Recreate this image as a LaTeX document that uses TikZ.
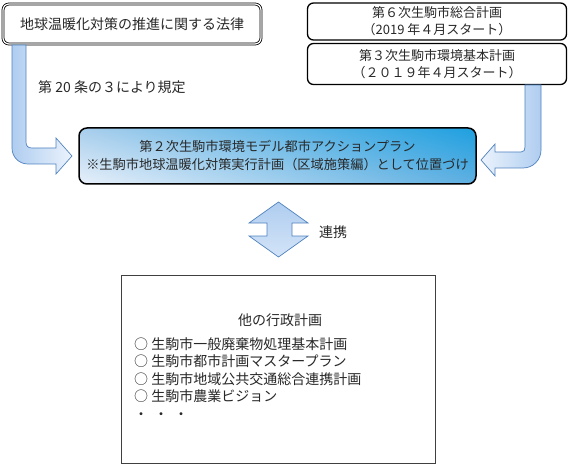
\documentclass[tikz,border=0pt]{standalone}
\usepackage{fontspec}
\setmainfont{Noto Sans CJK JP}
\usepackage{tikz}
\usetikzlibrary{positioning, calc, shadings}
\definecolor{mytext}{RGB}{40,40,40}
\definecolor{myedge}{RGB}{80,130,190}
\definecolor{mylight}{RGB}{235,243,252}
\definecolor{mymid}{RGB}{175,205,240}
\definecolor{myblue}{RGB}{30,160,224}
\definecolor{mypale}{RGB}{232,240,250}
\definecolor{mysoft}{RGB}{168,206,236}
\definecolor{mydeep}{RGB}{95,175,225}
\tikzset{
  planbox/.style={rectangle, draw=black, fill=white, rounded corners=6pt,
    line width=1.3pt, align=center, text=mytext,
    font=\fontsize{13}{17}\selectfont, inner sep=0pt},
  lawbox/.style={planbox, line width=0.8pt, double=white, double distance=1.2pt,
    font=\fontsize{14}{17}\selectfont},
  mainbox/.style={planbox, line width=1.5pt, rounded corners=8pt,
    lower left=mypale, upper right=myblue, lower right=mydeep, upper left=mysoft},
  listbox/.style={rectangle, draw=black!75, fill=white, line width=1pt},
  blockarrow/.style={draw=myedge, line width=0.7pt, left color=mymid, right color=mylight},
  plainlabel/.style={text=mytext, font=\fontsize{14}{17}\selectfont, inner sep=0pt}
}

\begin{document}
\begin{tikzpicture}[x=1pt, y=-1pt]
  \useasboundingbox (0,0) rectangle (570,465);

  % Upper plans
  \node[lawbox, minimum width=258pt, minimum height=40pt] (law) at (132,24) {地球温暖化対策の推進に関する法律};
  \node[planbox, minimum width=259pt, minimum height=37pt] (sogo) at (437,21.5) {第６次生駒市総合計画\\（2019 年４月スタート）};
  \node[planbox, minimum width=259pt, minimum height=41pt] (kankyo) at (437,64) {第３次生駒市環境基本計画\\（２０１９年４月スタート）};

  % Action plan
  \node[mainbox, minimum width=397pt, minimum height=56pt, font=\fontsize{13.2}{18}\selectfont] (action) at (277.5,156) {第２次生駒市環境モデル都市アクションプラン\\※生駒市地球温暖化対策実行計画（区域施策編）として位置づけ};

  % Bent arrows into the action plan
  \draw[blockarrow] (12,45) -- (26,45) -- (26,142) .. controls (26,146) and (28,148) .. (32,148)
    -- (56,148) -- (56,138) -- (72,156) -- (56,174) -- (56,164) -- (28,164)
    .. controls (19,164) and (12,157) .. (12,148) -- cycle;
  \node[plainlabel, anchor=west] (rule) at (38,87) {第 20 条の３により規定};

  \draw[blockarrow, left color=mylight, right color=mymid] (525,85) -- (541,85) -- (541,150)
    .. controls (541,160) and (533,168) .. (523,168) -- (495,168) -- (495,176) -- (481,160)
    -- (495,144) -- (495,152) -- (521,152) .. controls (524,152) and (525,150) .. (525,147) -- cycle;

  % Link to other plans
  \draw[blockarrow, top color=mymid, bottom color=mylight!60!mymid] (278.5,202) -- (308,223) -- (292,223) -- (292,236)
    -- (308,236) -- (278.5,257) -- (249,236) -- (267,236) -- (267,223) -- (249,223) -- cycle;
  \node[plainlabel, anchor=west] (renkei) at (319,232) {連携};

  % Other administrative plans
  \node[listbox, minimum width=314pt, minimum height=188pt] (others) at (278,369) {};
  \node[plainlabel] (title) at (280,320) {他の行政計画};
  \node[plainlabel, anchor=north west, align=left, font=\fontsize{14}{17.6}\selectfont] (items) at (134,337)
    {○ 生駒市一般廃棄物処理基本計画\\○ 生駒市都市計画マスタープラン\\○ 生駒市地域公共交通総合連携計画\\○ 生駒市農業ビジョン\\・\hspace{6pt}・\hspace{6pt}・};
\end{tikzpicture}
\end{document}
